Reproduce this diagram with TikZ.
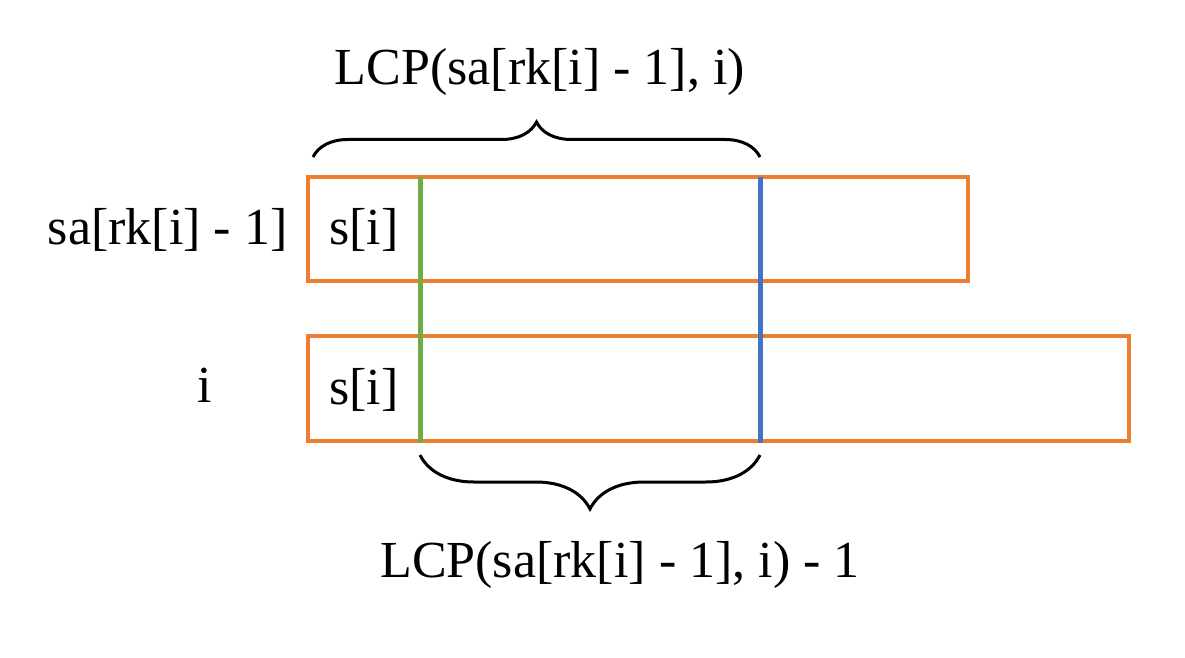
\documentclass[tikz,border=0pt]{standalone}
\usepackage{fontspec}
\setmainfont{Liberation Serif}
\usetikzlibrary{decorations.pathreplacing}
\definecolor{boxorange}{HTML}{ED7D31}
\definecolor{matchgreen}{HTML}{70AD47}
\definecolor{matchblue}{HTML}{4472C4}

\begin{document}
\begin{tikzpicture}[x=0.5pt, y=-0.5pt,
    strbox/.style={draw=boxorange, line width=1.75pt},
    cutline/.style={line width=2.5pt},
    lcpbrace/.style={decorate, decoration={brace, amplitude=#1}, line width=1.5pt},
    lbl/.style={font=\fontsize{26}{30}\selectfont, anchor=base, inner sep=0pt}]
  \useasboundingbox (0,0) rectangle (1185,658);
  % the two suffixes
  \draw[strbox] (308,177) rectangle (968,281);
  \draw[strbox] (308,336) rectangle (1129,441);
  \node[lbl, anchor=base east] (rowa) at (288,245) {sa[rk[i] - 1]};
  \node[lbl] (rowb) at (205,402) {i};
  \node[lbl, anchor=base west] (firsta) at (329,245) {s[i]};
  \node[lbl, anchor=base west] (firstb) at (329,404) {s[i]};
  % end of the common prefix
  \coordinate (gtop) at (420,177);
  \coordinate (gbot) at (420,443);
  \coordinate (btop) at (760,177);
  \coordinate (bbot) at (760,443);
  \draw[cutline, matchgreen] (gtop) -- (gbot);
  \draw[cutline, matchblue] (btop) -- (bbot);
  % braces
  \coordinate (ta) at (313,157);
  \coordinate (tb) at (760,157);
  \coordinate (ba) at (760,455);
  \coordinate (bb) at (420,455);
  \draw[lcpbrace=17.5pt] (ta) -- (tb);
  \draw[lcpbrace=27pt] (ba) -- (bb);
  \node[lbl] (lcptop) at (540,85) {LCP(sa[rk[i] - 1], i)};
  \node[lbl] (lcpbot) at (620,577) {LCP(sa[rk[i] - 1], i) - 1};
\end{tikzpicture}
\end{document}
